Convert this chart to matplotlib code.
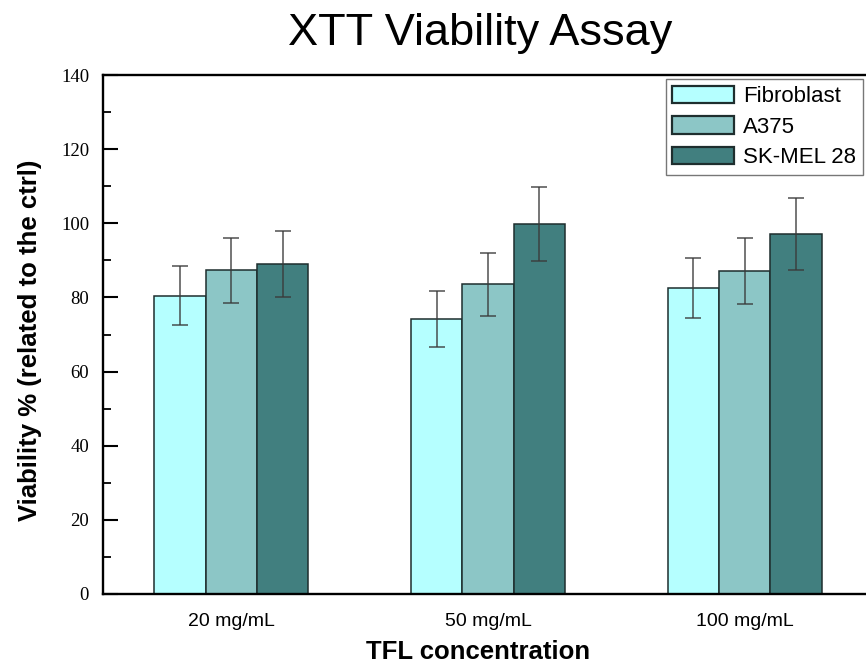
import numpy as np
import matplotlib
matplotlib.use("Agg")
import matplotlib.pyplot as plt
from matplotlib.ticker import MultipleLocator

# data
concentrations = ["20 mg/mL", "50 mg/mL", "100 mg/mL"]
cell_lines = ["Fibroblast", "A375", "SK-MEL 28"]
fibroblast = [80.5, 74.2, 82.6]
a375 = [87.3, 83.5, 87.1]
skmel28 = [89.0, 99.9, 97.0]
fibroblast_err = [8.0, 7.5, 8.1]
a375_err = [8.7, 8.4, 8.8]
skmel28_err = [9.0, 10.0, 9.7]

colors = ["#b5ffff", "#8cc6c6", "#417f7f"]

W, H = 866, 664
fig = plt.figure(figsize=(W / 100, H / 100), dpi=100)
ax = fig.add_axes([103 / W, 1 - 594 / H, 770 / W, 519 / H])

x = np.arange(len(concentrations))
width = 0.2
series = [fibroblast, a375, skmel28]
errs = [fibroblast_err, a375_err, skmel28_err]
for i, (vals, err, name, c) in enumerate(zip(series, errs, cell_lines, colors)):
    ax.bar(x + (i - 1) * width, vals, width, color=c, edgecolor="#1e2e2e",
           linewidth=1.1, label=name, zorder=2)
    ax.errorbar(x + (i - 1) * width, vals, yerr=err, fmt="none",
                ecolor="#3a3a3a", alpha=0.7, elinewidth=1.4, capsize=6,
                capthick=1.4, zorder=3)

ax.set_xlim(-0.5, 2.5)
ax.set_ylim(0, 140)
ax.set_xticks(x)
ax.set_xticklabels(concentrations, fontsize=14, family="Liberation Sans")
ax.tick_params(axis="x", length=0, pad=14)
ax.yaxis.set_major_locator(MultipleLocator(20))
ax.yaxis.set_minor_locator(MultipleLocator(10))
ax.tick_params(axis="y", which="major", direction="in", length=11, width=1.5, pad=10,
               labelsize=13.5)
ax.tick_params(axis="y", which="minor", direction="in", length=6, width=1.3)
for lbl in ax.get_yticklabels():
    lbl.set_family("Liberation Serif")

for side in ["left", "top", "bottom"]:
    ax.spines[side].set_linewidth(1.7)
ax.spines["right"].set_visible(False)

ax.set_ylabel("Viability % (related to the ctrl)", fontsize=18.5, fontweight="bold",
              family="Liberation Sans", va="center")
ax.yaxis.set_label_coords(-(103 - 30) / 770, (594 - 340) / 519)
ax.set_xlabel("TFL concentration", fontsize=18.5, fontweight="bold",
              family="Liberation Sans", va="center")
ax.xaxis.set_label_coords((478 - 103) / 770, -(652 - 594) / 519)
fig.text(480 / W, 1 - 34 / H, "XTT Viability Assay", fontsize=32.5,
         family="Liberation Sans", ha="center", va="center")

leg = ax.legend(loc="upper right", bbox_to_anchor=(863 / W, 1 - 79 / H),
                bbox_transform=fig.transFigure, frameon=True, fancybox=False,
                edgecolor="#555555", handlelength=2.8, handleheight=0.85,
                borderpad=0.3, labelspacing=0.4, handletextpad=0.4,
                borderaxespad=0, prop={"family": "Liberation Sans", "size": 16})
leg.get_frame().set_linewidth(1.0)
for p in leg.get_patches():
    p.set_edgecolor("#1e2e2e")
    p.set_linewidth(1.6)

fig.savefig("out.png", dpi=100)
